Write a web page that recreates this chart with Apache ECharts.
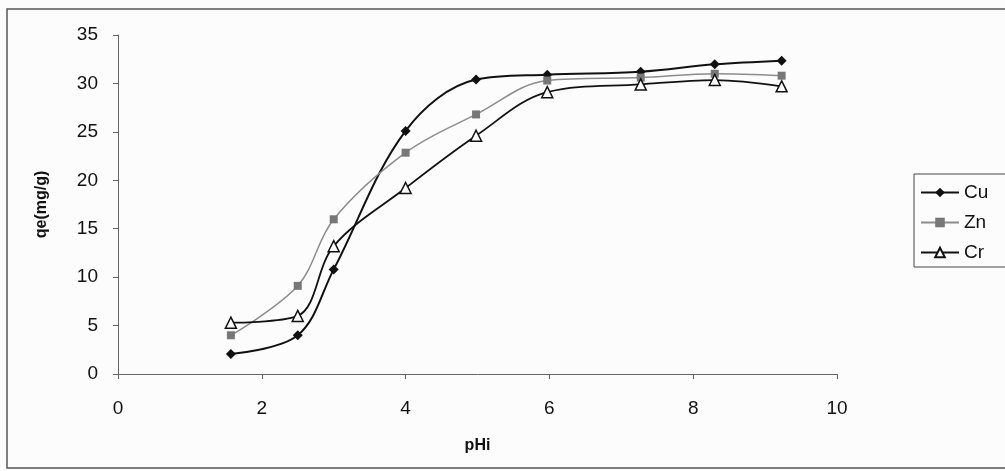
<!DOCTYPE html>
<html>
<head>
<meta charset="utf-8">
<script src="https://cdn.jsdelivr.net/npm/echarts@6/dist/echarts.min.js"></script>
<style>
html,body{margin:0;padding:0;background:#fcfcfd;}
#chart{width:1005px;height:471px;}
</style>
</head>
<body>
<div id="chart"></div>
<script>
const pHi = [1.57, 2.5, 3.0, 4.0, 4.98, 5.97, 7.27, 8.3, 9.23];
const cuValues = [2.06, 4.0, 10.8, 25.1, 30.4, 30.9, 31.2, 31.97, 32.35];
const znValues = [4.0, 9.1, 15.97, 22.85, 26.8, 30.3, 30.6, 31.0, 30.8];
const crValues = [5.3, 6.0, 13.2, 19.2, 24.6, 29.1, 29.9, 30.35, 29.7];
const seriesNames = ['Cu', 'Zn', 'Cr'];

function pairs(xs, ys){ return xs.map((x,i)=>[x, ys[i]]); }

const chart = echarts.init(document.getElementById('chart'));
const font = 'Liberation Sans, Arial, sans-serif';
chart.setOption({
  backgroundColor: '#fcfcfd',
  animation: false,
  graphic: [{
    type: 'rect', shape: {x: 7, y: 9, width: 1010, height: 459},
    style: {fill: 'none', stroke: '#555', lineWidth: 1.5}, z: -1
  }],
  grid: {left: 118, right: 168, top: 35, bottom: 97},
  legend: {
    orient: 'vertical', left: 914, top: 174,
    data: seriesNames,
    itemWidth: 38, itemHeight: 12, itemGap: 11,
    padding: [9, 20, 5, 6],
    borderColor: '#444', borderWidth: 1,
    textStyle: {fontFamily: font, fontSize: 19, color: '#111'}
  },
  xAxis: {
    type: 'value', min: 0, max: 10, interval: 2,
    name: 'pHi', nameLocation: 'middle', nameGap: 64,
    nameTextStyle: {fontFamily: font, fontSize: 16, fontWeight: 'bold', color: '#111'},
    axisLine: {lineStyle: {color: '#666', width: 1}},
    axisTick: {show: true, length: 5, lineStyle: {color: '#666'}},
    axisLabel: {fontFamily: font, fontSize: 19, color: '#111', margin: 25},
    splitLine: {show: false}
  },
  yAxis: {
    type: 'value', min: 0, max: 35, interval: 5,
    name: 'qe(mg/g)', nameLocation: 'middle', nameGap: 68,
    nameTextStyle: {fontFamily: font, fontSize: 16, fontWeight: 'bold', color: '#111'},
    axisLine: {show: true, lineStyle: {color: '#666', width: 1}},
    axisTick: {show: true, length: 5, lineStyle: {color: '#666'}},
    axisLabel: {fontFamily: font, fontSize: 19, color: '#111', margin: 20},
    splitLine: {show: false}
  },
  series: [
    {
      name: 'Cu', type: 'line', data: pairs(pHi, cuValues), smooth: 0.35,
      symbol: 'diamond', symbolSize: 10,
      lineStyle: {color: '#111', width: 2},
      itemStyle: {color: '#111', borderWidth: 0}
    },
    {
      name: 'Zn', type: 'line', data: pairs(pHi, znValues), smooth: 0.35,
      symbol: 'rect', symbolSize: 8,
      lineStyle: {color: '#8c8c8c', width: 1.5},
      itemStyle: {color: '#777', borderWidth: 0}
    },
    {
      name: 'Cr', type: 'line', data: pairs(pHi, crValues), smooth: 0.35,
      symbol: 'triangle', symbolSize: 11,
      lineStyle: {color: '#111', width: 1.8},
      itemStyle: {color: '#fcfcfd', borderColor: '#111', borderWidth: 1.5}
    }
  ]
});
</script>
</body>
</html>
